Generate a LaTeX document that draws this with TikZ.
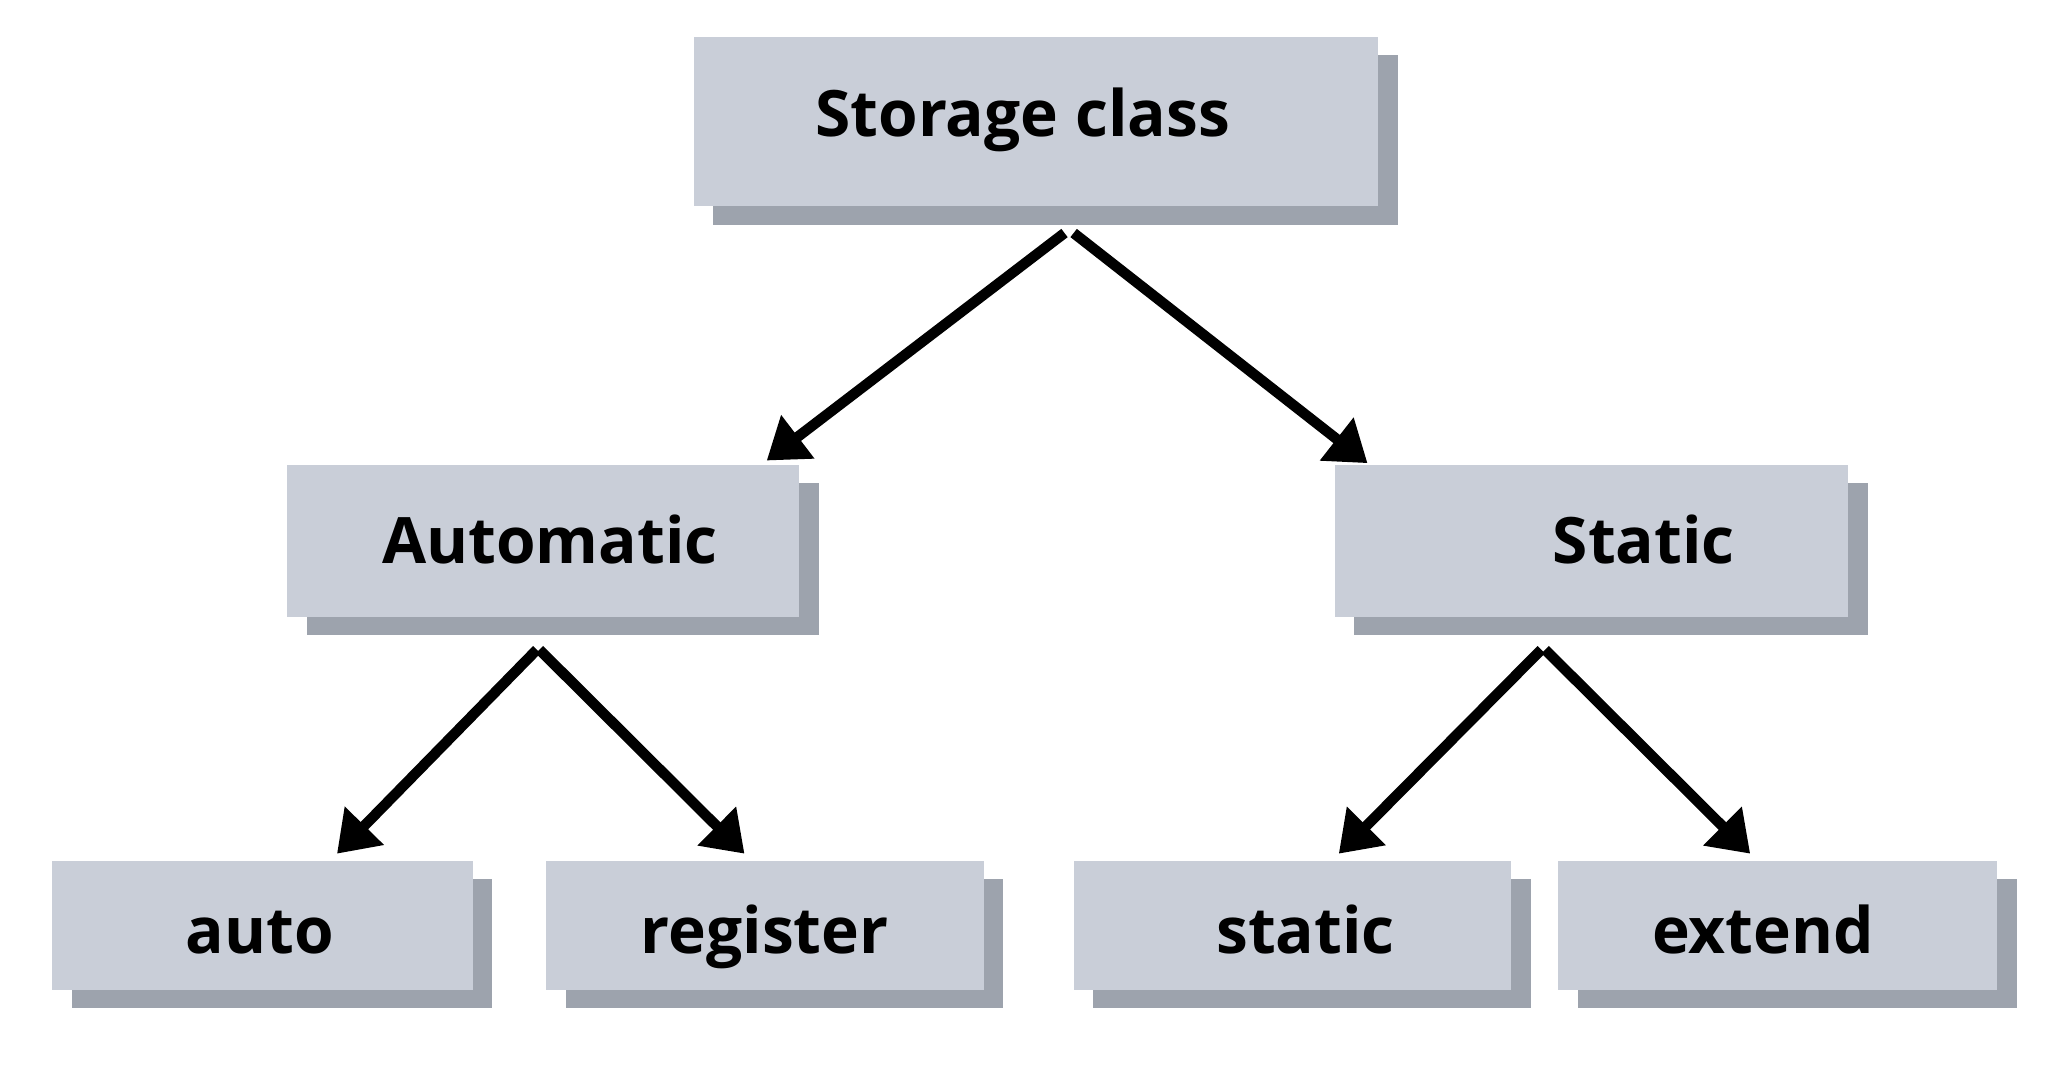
\documentclass[tikz,border=0pt]{standalone}
\usepackage{fontspec}
\setmainfont{Open Sans}[BoldFont={* Bold}]
\usetikzlibrary{arrows.meta,shadows,calc}
\definecolor{boxfill}{HTML}{C9CED8}
\definecolor{boxshadow}{HTML}{9DA3AD}
\begin{document}
\begin{tikzpicture}[x=0.5pt,y=-0.5pt,
  box/.style={rectangle, fill=boxfill, inner sep=0pt,
    general shadow={fill=boxshadow, shadow xshift=7.5pt, shadow yshift=-7pt}},
  lbl/.style={font=\fontsize{24.5}{28}\selectfont\bfseries, text=black, inner sep=0pt,
    text height=17.5pt, text depth=0pt},
  conn/.style={line width=4pt, -{Triangle[length=15pt,width=20pt]}, black}]
\useasboundingbox (0,0) rectangle (1568,821);
\fill[white] (0,0) rectangle (1568,821);

\node[box, minimum width=262pt, minimum height=65pt,
  label={[lbl, xshift=-5pt, yshift=3pt]center:Storage class}] (root) at (793,93) {};
\node[box, minimum width=196pt, minimum height=58pt,
  label={[lbl, xshift=2.5pt, yshift=0pt]center:Automatic}] (autom) at (416,414) {};
\node[box, minimum width=196.5pt, minimum height=58pt,
  label={[lbl, xshift=20pt, yshift=0pt]center:Static}] (stat) at (1218.5,414) {};
\node[box, minimum width=161pt, minimum height=49.5pt,
  label={[lbl, xshift=-1pt, yshift=-2pt]center:auto}] (kauto) at (201,708.5) {};
\node[box, minimum width=167.5pt, minimum height=49.5pt,
  label={[lbl, yshift=-2pt]center:register}] (kreg) at (585.5,708.5) {};
\node[box, minimum width=167.5pt, minimum height=49.5pt,
  label={[lbl, xshift=5pt, yshift=-2pt]center:static}] (kstat) at (989.5,708.5) {};
\node[box, minimum width=168pt, minimum height=49.5pt,
  label={[lbl, xshift=-5.5pt, yshift=-2pt]center:extend}] (kext) at (1361,708.5) {};

\draw[conn] ($(root.south)+(22,20)$) -- ($(autom.north)+(171,-3)$);
\draw[conn] ($(root.south)+(29,20)$) -- ($(stat.north)+(-171.5,-1)$);
\draw[conn] ($(autom.south)+(-5,25)$) -- ($(kauto.north)+(57,-5)$);
\draw[conn] ($(autom.south)+(-3,25)$) -- ($(kreg.north)+(-15.5,-5)$);
\draw[conn] ($(stat.south)+(-38.5,25)$) -- ($(kstat.north)+(35.5,-5)$);
\draw[conn] ($(stat.south)+(-35.5,25)$) -- ($(kext.north)+(-21,-5)$);
\end{tikzpicture}
\end{document}
